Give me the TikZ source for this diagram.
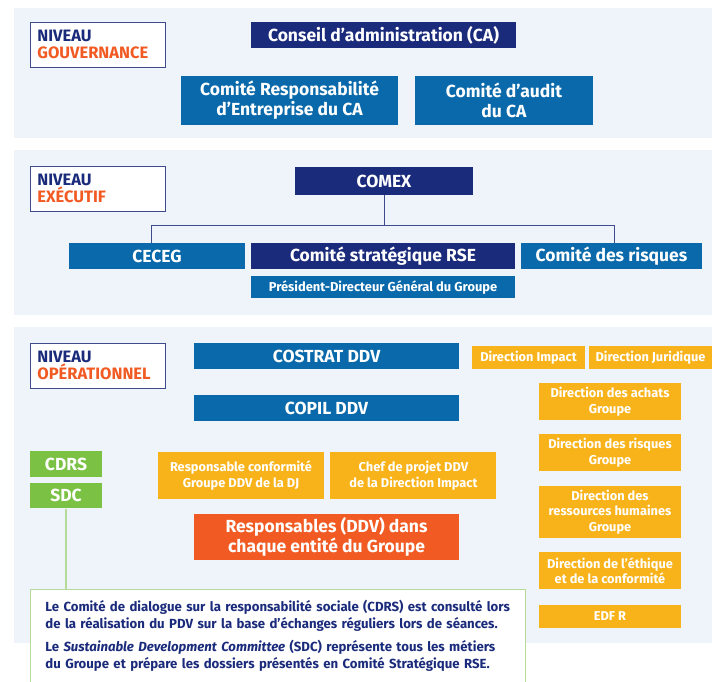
\documentclass[tikz,border=0pt]{standalone}
\usepackage{fontspec}
\setmainfont{Fira Sans}
\usepackage{tikz}
\usetikzlibrary{positioning}

\definecolor{edfnavy}{HTML}{1B2B7B}
\definecolor{edfblue}{HTML}{0969AA}
\definecolor{edforange}{HTML}{F9B31A}
\definecolor{edfred}{HTML}{F15A22}
\definecolor{edfgreen}{HTML}{7BC143}
\definecolor{panelbg}{HTML}{EFF4FB}
\definecolor{levelline}{HTML}{3E4C8E}
\definecolor{notegreen}{HTML}{B5DB98}

\tikzset{
  box/.style={inner sep=0pt, font=\bfseries, text=white, align=center},
  navybox/.style={box, fill=edfnavy},
  bluebox/.style={box, fill=edfblue},
  dirbox/.style={box, fill=edforange, font=\bfseries\fontsize{12.8}{15.5}\selectfont},
  greenbox/.style={box, fill=edfgreen, font=\bfseries\fontsize{17.5}{20}\selectfont},
  levelbox/.style={draw=levelline, fill=white, anchor=north west, align=left,
    inner sep=0pt, text width=135pt, minimum height=45pt, line width=.8pt,
    font=\bfseries\fontsize{16.5}{17}\selectfont},
  big/.style={font=\bfseries\fontsize{17.5}{20}\selectfont},
  link/.style={draw=levelline, line width=.8pt}
}

\begin{document}
\begin{tikzpicture}[x=1pt, y=-1pt]
  \useasboundingbox (0,0) rectangle (712,682);

  % niveaux
  \fill[panelbg] (14,8) rectangle (712,138);
  \fill[panelbg] (14,150) rectangle (712,315);
  \fill[panelbg] (14,327) rectangle (712,643);

  % gouvernance
  \node (gouv) [levelbox] at (30,22) {\hspace*{7pt}\textcolor{edfnavy}{NIVEAU}\\\hspace*{7pt}\textcolor{edfred}{GOUVERNANCE}};
  \node (ca) [navybox, big, minimum width=265pt, minimum height=26pt] at (383.5,35) {Conseil d’administration (CA)};
  \node (cre) [bluebox, big, minimum width=217pt, minimum height=49pt] at (289.5,100.5) {Comité Responsabilité\\d’Entreprise du CA};
  \node (audit) [bluebox, big, minimum width=178pt, minimum height=49pt] at (504,100.5) {Comité d’audit\\du CA};

  % executif
  \node (exec) [levelbox] at (30,166) {\hspace*{7pt}\textcolor{edfnavy}{NIVEAU}\\\hspace*{7pt}\textcolor{edfred}{EXÉCUTIF}};
  \node (comex) [navybox, big, minimum width=178pt, minimum height=28pt] at (384,181) {COMEX};
  \node (ceceg) [bluebox, big, minimum width=176pt, minimum height=26pt] at (157,256) {CECEG};
  \node (csrse) [navybox, big, minimum width=264pt, minimum height=26pt] at (383,256) {Comité stratégique RSE};
  \node (risques) [bluebox, big, minimum width=181pt, minimum height=26pt] at (611.5,256) {Comité des risques};
  \node (pdg) [bluebox, font=\bfseries\fontsize{12.9}{15}\selectfont, minimum width=264pt, minimum height=22pt, below=7pt of csrse] {Président-Directeur Général du Groupe};

  \draw[link] (comex.south) -- ++(0,30) coordinate (split);
  \draw[link] (split) -| ([xshift=-6pt]ceceg.north);
  \draw[link] (split) -| ([xshift=2.5pt]risques.north);

  % operationnel
  \node (oper) [levelbox] at (30,343) {\hspace*{7pt}\textcolor{edfnavy}{NIVEAU}\\\hspace*{7pt}\textcolor{edfred}{OPÉRATIONNEL}};
  \node (costrat) [bluebox, big, minimum width=265pt, minimum height=26pt] at (326.5,356) {COSTRAT DDV};
  \node (copil) [bluebox, big, minimum width=265pt, minimum height=26pt] at (326.5,408) {COPIL DDV};

  \node (impact) [dirbox, minimum width=113pt, minimum height=23pt] at (528.5,357.5) {Direction Impact};
  \node (juri) [dirbox, minimum width=123pt, minimum height=23pt] at (650.5,357.5) {Direction Juridique};
  \node (achats) [dirbox, minimum width=142pt, minimum height=37pt] at (610,401.5) {Direction des achats\\Groupe};
  \node (drisq) [dirbox, minimum width=142pt, minimum height=37pt, below=14pt of achats] {Direction des risques\\Groupe};
  \node (rh) [dirbox, minimum width=142pt, minimum height=52pt, below=14pt of drisq] {Direction des\\ressources humaines\\Groupe};
  \node (ethique) [dirbox, minimum width=142pt, minimum height=37pt, below=14pt of rh] {Direction de l’éthique\\et de la conformité};
  \node (edfr) [dirbox, minimum width=142pt, minimum height=23pt, below=15pt of ethique] {EDF R};

  \node (cdrs) [greenbox, minimum width=72pt, minimum height=26pt] at (66,464) {CDRS};
  \node (sdc) [greenbox, minimum width=72pt, minimum height=25pt, below=6pt of cdrs] {SDC};

  \node (respconf) [dirbox, minimum width=166pt, minimum height=47pt] at (241,475.5) {Responsable conformité\\Groupe DDV de la DJ};
  \node (chefprojet) [dirbox, minimum width=166pt, minimum height=47pt, right=6pt of respconf] {Chef de projet DDV\\de la Direction Impact};
  \node (entites) [box, fill=edfred, big, minimum width=265pt, minimum height=46pt] at (326.5,537) {Responsables (DDV) dans\\chaque entité du Groupe};

  \node (note) [draw=notegreen, fill=white, line width=.8pt, anchor=north west,
    inner xsep=15pt, inner ysep=0pt, text width=465pt, minimum height=93pt,
    text=edfnavy, align=left, font=\bfseries\fontsize{13.2}{17.5}\selectfont] at (30,589)
    {Le Comité de dialogue sur la responsabilité sociale (CDRS) est consulté lors\\
     de la réalisation du PDV sur la base d’échanges réguliers lors de séances.\\[5pt]
     Le \textit{Sustainable Development Committee} (SDC) représente tous les métiers\\
     du Groupe et prépare les dossiers présentés en Comité Stratégique RSE.};

  \draw[notegreen, line width=1.2pt] (sdc.south) -- (sdc.south |- note.north);
\end{tikzpicture}
\end{document}
